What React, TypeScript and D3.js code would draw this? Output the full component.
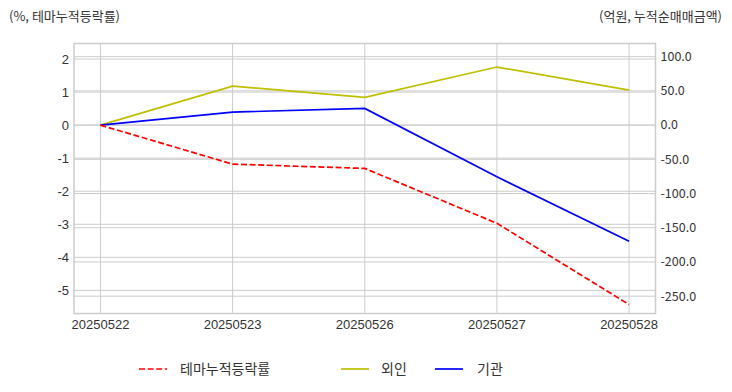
import * as d3 from "d3";
import { useEffect, useRef } from "react";

// 날짜 (x축)
const dates = ["20250522", "20250523", "20250526", "20250527", "20250528"];
// 테마누적등락률 (%), 왼쪽 축
const themeRate = [0, -1.18, -1.31, -2.97, -5.43];
// 누적순매매금액 (억원), 오른쪽 축
const foreign = [0, 57.0, 40.5, 84.8, 51.2];
const institution = [0, 19.0, 24.4, -75.6, -169.6];

const leftTicks = [2, 1, 0, -1, -2, -3, -4, -5];
const rightTicks = [100, 50, 0, -50, -100, -150, -200, -250];

const leftDomain = [-5.7, 2.47];
const rightDomain = [-275.3, 119.2];

const legendItems = [
    { label: "테마누적등락률", color: "#ff0000", dash: "6,2.6", x: 139, textX: 180 },
    { label: "외인", color: "#bfbf00", dash: null, x: 341, textX: 381 },
    { label: "기관", color: "#0000ff", dash: null, x: 435, textX: 477 },
];

const App = () => {
    const svgRef = useRef(null);
    const width = 732;
    const height = 392;

    useEffect(() => {
        const margin = { top: 43.5, right: 76.5, bottom: 78.5, left: 74 };
        const innerW = width - margin.left - margin.right;
        const innerH = height - margin.top - margin.bottom;

        const svg = d3.select(svgRef.current);
        svg.selectAll("*").remove();

        const kFont = "'Noto Sans CJK KR', 'Noto Sans', sans-serif";
        const nFont = "'Liberation Sans', Arial, sans-serif";
        const textColor = "#333333";

        // x: index scale with 5% margin on each side (matplotlib default)
        const xi = d3.scaleLinear().domain([-0.2, dates.length - 1 + 0.2]).range([0, innerW]);
        const yL = d3.scaleLinear().domain(leftDomain).range([innerH, 0]);
        const yR = d3.scaleLinear().domain(rightDomain).range([innerH, 0]);

        const g = svg.append("g").attr("transform", `translate(${margin.left},${margin.top})`);

        const gridColor = "#cccccc";

        // grid: vertical
        g.append("g")
            .selectAll("line")
            .data(dates)
            .join("line")
            .attr("x1", (d, i) => xi(i))
            .attr("x2", (d, i) => xi(i))
            .attr("y1", 0)
            .attr("y2", innerH)
            .attr("stroke", gridColor)
            .attr("stroke-width", 1);

        // grid: left axis
        g.append("g")
            .selectAll("line")
            .data(leftTicks)
            .join("line")
            .attr("x1", 0)
            .attr("x2", innerW)
            .attr("y1", (d) => yL(d))
            .attr("y2", (d) => yL(d))
            .attr("stroke", gridColor)
            .attr("stroke-width", 1);

        // grid: right axis
        g.append("g")
            .selectAll("line")
            .data(rightTicks)
            .join("line")
            .attr("x1", 0)
            .attr("x2", innerW)
            .attr("y1", (d) => yR(d))
            .attr("y2", (d) => yR(d))
            .attr("stroke", gridColor)
            .attr("stroke-width", 1);

        // frame
        g.append("rect")
            .attr("width", innerW)
            .attr("height", innerH)
            .attr("fill", "none")
            .attr("stroke", "#cccccc")
            .attr("stroke-width", 1.5);

        // tick labels
        g.append("g")
            .selectAll("text")
            .data(dates)
            .join("text")
            .attr("x", (d, i) => xi(i))
            .attr("y", innerH + 15)
            .attr("text-anchor", "middle")
            .attr("font-family", nFont)
            .attr("font-size", 13)
            .attr("fill", textColor)
            .text((d) => d);

        g.append("g")
            .selectAll("text")
            .data(leftTicks)
            .join("text")
            .attr("x", -5)
            .attr("y", (d) => yL(d))
            .attr("dy", "0.35em")
            .attr("text-anchor", "end")
            .attr("font-family", nFont)
            .attr("font-size", 13)
            .attr("fill", textColor)
            .text((d) => String(d));

        g.append("g")
            .selectAll("text")
            .data(rightTicks)
            .join("text")
            .attr("x", innerW + 5)
            .attr("y", (d) => yR(d))
            .attr("dy", "0.35em")
            .attr("text-anchor", "start")
            .attr("font-family", kFont)
            .attr("font-size", 12.5)
            .attr("fill", textColor)
            .text((d) => d.toFixed(1));

        // lines
        const lineL = d3.line().x((d, i) => xi(i)).y((d) => yL(d));
        const lineR = d3.line().x((d, i) => xi(i)).y((d) => yR(d));

        g.append("path")
            .datum(foreign)
            .attr("fill", "none")
            .attr("stroke", "#bfbf00")
            .attr("stroke-width", 1.7)
            .attr("d", lineR);

        g.append("path")
            .datum(institution)
            .attr("fill", "none")
            .attr("stroke", "#0000ff")
            .attr("stroke-width", 1.7)
            .attr("d", lineR);

        g.append("path")
            .datum(themeRate)
            .attr("fill", "none")
            .attr("stroke", "#ff0000")
            .attr("stroke-width", 1.7)
            .attr("stroke-dasharray", "6,2.6")
            .attr("d", lineL);

        // axis titles
        svg.append("text")
            .attr("x", 9)
            .attr("y", 21)
            .attr("font-family", kFont)
            .attr("font-size", 13)
            .attr("fill", textColor)
            .text("(%, 테마누적등락률)");

        svg.append("text")
            .attr("x", 722)
            .attr("y", 21)
            .attr("text-anchor", "end")
            .attr("font-family", kFont)
            .attr("font-size", 13)
            .attr("fill", textColor)
            .text("(억원, 누적순매매금액)");

        // legend
        const lg = svg.append("g");
        legendItems.forEach((item) => {
            lg.append("line")
                .attr("x1", item.x)
                .attr("x2", item.x + 28)
                .attr("y1", 369)
                .attr("y2", 369)
                .attr("stroke", item.color)
                .attr("stroke-width", 1.7)
                .attr("stroke-dasharray", item.dash);
            lg.append("text")
                .attr("x", item.textX)
                .attr("y", 369)
                .attr("dy", "0.35em")
                .attr("font-family", kFont)
                .attr("font-size", 14)
                .attr("fill", textColor)
                .text(item.label);
        });
    }, []);

    return (
        <svg
            ref={svgRef}
            width={width}
            height={height}
            style={{ position: "absolute", left: 0, top: 0, background: "#fff" }}
        />
    );
};

export default App;
